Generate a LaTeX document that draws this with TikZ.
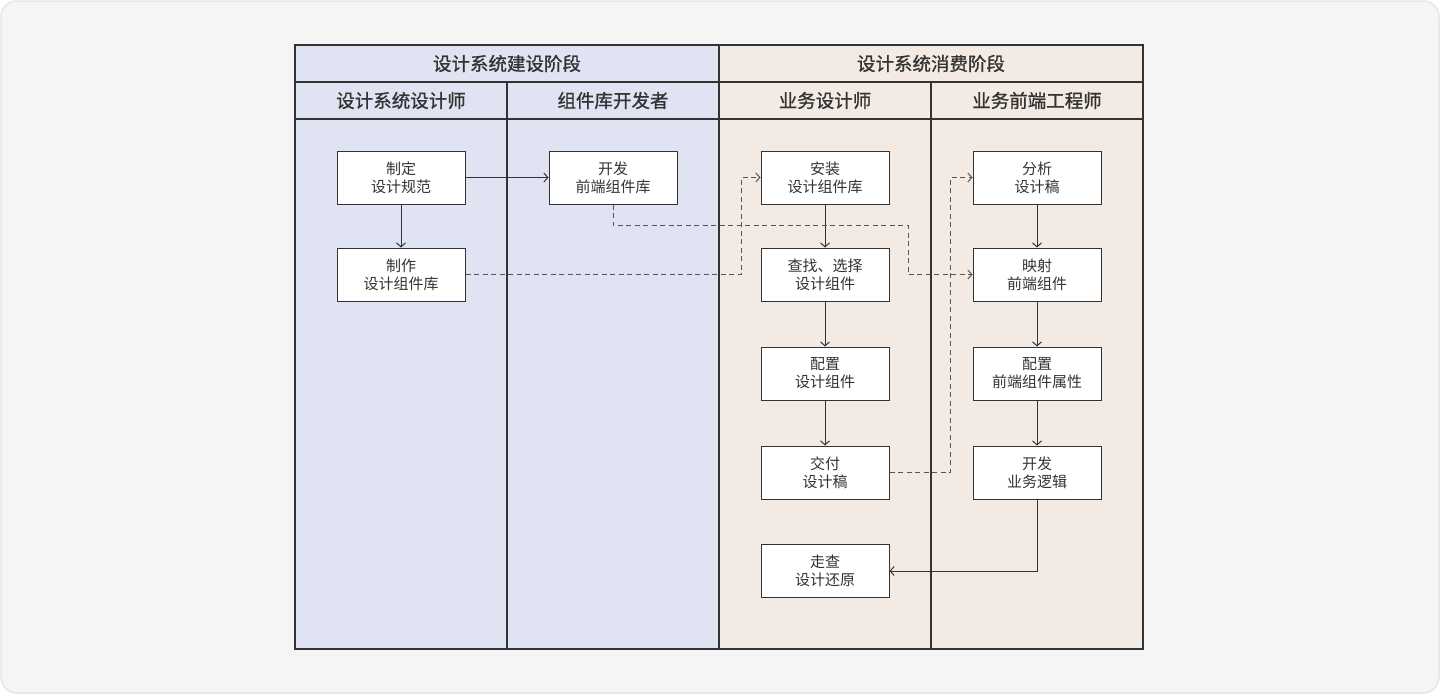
\documentclass[tikz,border=0pt]{standalone}
\usepackage{fontspec}
\newfontfamily\cjk{Noto Sans CJK SC}
\newfontfamily\cjkhdr[FakeBold=0.9]{Noto Sans CJK SC}
\usetikzlibrary{arrows.meta}
\definecolor{canvasbg}{HTML}{F5F5F5}
\definecolor{canvasedge}{HTML}{E6E6E6}
\definecolor{laneblue}{HTML}{DFE3F2}
\definecolor{lanebeige}{HTML}{F3EBE3}
\definecolor{inkdark}{HTML}{333333}
\definecolor{inkdash}{HTML}{555555}
\tikzset{
  box/.style={draw=inkdark, line width=1pt, fill=white, minimum width=128pt, minimum height=53pt,
    align=center, inner sep=0pt, font=\cjk\fontsize{15}{18}\selectfont, text=inkdark},
  hdr/.style={font=\cjkhdr\fontsize{18.5}{22}\selectfont, text=inkdark, inner sep=0pt},
  arr/.style={draw=inkdark, line width=1pt, -{Straight Barb[length=4pt,width=9pt]}},
  darr/.style={draw=inkdash, line width=1pt, dash pattern=on 5pt off 3.5pt, -{Straight Barb[length=4pt,width=9pt]}},
  grid/.style={draw=inkdark, line width=1.3pt}
}
\begin{document}
\begin{tikzpicture}[x=1pt,y=-1pt]
\useasboundingbox (0,0) rectangle (1440,694);
\fill[white] (0,0) rectangle (1440,694);
\draw[fill=canvasbg, draw=canvasedge, line width=1.5pt, rounded corners=16pt] (1,1) rectangle (1439,693);
% lanes
\fill[laneblue] (295,45) rectangle (719,649);
\fill[lanebeige] (719,45) rectangle (1143,649);
% grid
\draw[grid] (295,45) rectangle (1143,649);
\draw[grid] (295,82) -- (1143,82);
\draw[grid] (295,119) -- (1143,119);
\draw[grid] (719,45) -- (719,649);
\draw[grid] (507,82) -- (507,649);
\draw[grid] (931,82) -- (931,649);
% headers
\node[hdr] (p1) at (507,63.5) {设计系统建设阶段};
\node[hdr] (p2) at (931,63.5) {设计系统消费阶段};
\node[hdr] (h1) at (401,100.5) {设计系统设计师};
\node[hdr] (h2) at (613,100.5) {组件库开发者};
\node[hdr] (h3) at (825,100.5) {业务设计师};
\node[hdr] (h4) at (1037,100.5) {业务前端工程师};
% boxes
\node[box] (a1) at (401,177.5) {制定\\设计规范};
\node[box] (a2) at (401,274.5) {制作\\设计组件库};
\node[box] (b1) at (613,177.5) {开发\\前端组件库};
\node[box] (c1) at (825,177.5) {安装\\设计组件库};
\node[box] (c2) at (825,274.5) {查找、选择\\设计组件};
\node[box] (c3) at (825,373.5) {配置\\设计组件};
\node[box] (c4) at (825,472.5) {交付\\设计稿};
\node[box] (c5) at (825,571) {走查\\设计还原};
\node[box] (d1) at (1037,177.5) {分析\\设计稿};
\node[box] (d2) at (1037,274.5) {映射\\前端组件};
\node[box] (d3) at (1037,373.5) {配置\\前端组件属性};
\node[box] (d4) at (1037,472.5) {开发\\业务逻辑};
% junctions
\coordinate (j1) at (741,274.5);
\coordinate (j2) at (908,225.5);
\coordinate (j3) at (950,472.5);
% connectors
\draw[arr] (a1) -- (b1);
\draw[arr] (a1) -- (a2);
\draw[arr] (c1) -- (c2);
\draw[arr] (c2) -- (c3);
\draw[arr] (c3) -- (c4);
\draw[arr] (d1) -- (d2);
\draw[arr] (d2) -- (d3);
\draw[arr] (d3) -- (d4);
\draw[arr] (d4.south) |- (c5.east);
\draw[darr] (a2.east) -- (j1) |- (c1.west);
\draw[darr] (b1.south) |- (j2) |- (d2.west);
\draw[darr] (c4.east) -- (j3) |- (d1.west);
\end{tikzpicture}
\end{document}
